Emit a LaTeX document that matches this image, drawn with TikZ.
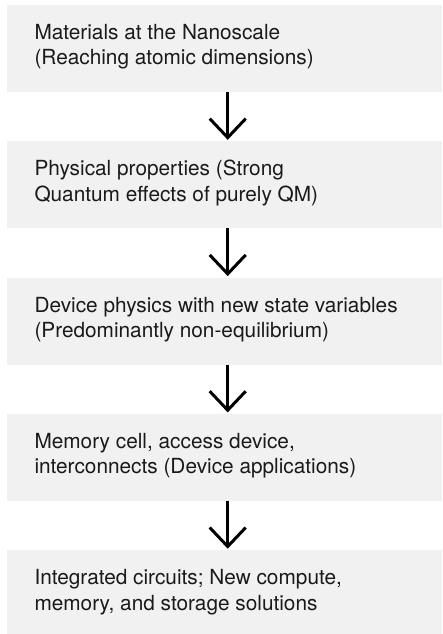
\documentclass[tikz,border=0pt]{standalone}
\usepackage{fontspec}
\setmainfont{TeX Gyre Heros}
\usetikzlibrary{arrows.meta}
\definecolor{boxgray}{HTML}{F0F1F0}
\definecolor{inkc}{HTML}{1A1A1A}
\begin{document}
\begin{tikzpicture}[x=1pt,y=1pt,
  stage/.style={fill=boxgray, draw=none, rectangle, anchor=north west,
    minimum width=435pt, minimum height=87pt, inner sep=0pt, outer sep=0pt},
  caption/.style={anchor=base west, align=left, inner sep=0pt, outer sep=0pt,
    font=\fontsize{20.8}{25.5}\selectfont, text=inkc},
  flow/.style={draw=black, line width=3pt,
    -{Straight Barb[length=19pt, width=36pt, line width=3pt]}, shorten >=1.5pt}]
\useasboundingbox (0,0) rectangle (442,-634);
\coordinate (ax) at (227.7,0);
% boxes
\node[stage] (b1) at (7,-5) {};
\node[stage] (b2) at (7,-141.3) {};
\node[stage] (b3) at (7,-277.6) {};
\node[stage] (b4) at (7,-413.9) {};
\node[stage] (b5) at (7,-550.2) {};
% texts (anchored at the baseline of the last line)
\node[caption] (t1) at (34.5,-65) {Materials at the Nanoscale\\(Reaching atomic dimensions)};
\node[caption] (t2) at (34.5,-201.3) {Physical properties (Strong\\Quantum effects of purely QM)};
\node[caption] (t3) at (34.5,-337.6) {Device physics with new state variables\\(Predominantly non-equilibrium)};
\node[caption] (t4) at (34.5,-473.9) {Memory cell, access device,\\interconnects (Device applications)};
\node[caption] (t5) at (34.5,-610.2) {Integrated circuits; New compute,\\memory, and storage solutions};
% arrows
\draw[flow] (b1.south -| ax) -- (b2.north -| ax);
\draw[flow] (b2.south -| ax) -- (b3.north -| ax);
\draw[flow] (b3.south -| ax) -- (b4.north -| ax);
\draw[flow] (b4.south -| ax) -- (b5.north -| ax);
\end{tikzpicture}
\end{document}
